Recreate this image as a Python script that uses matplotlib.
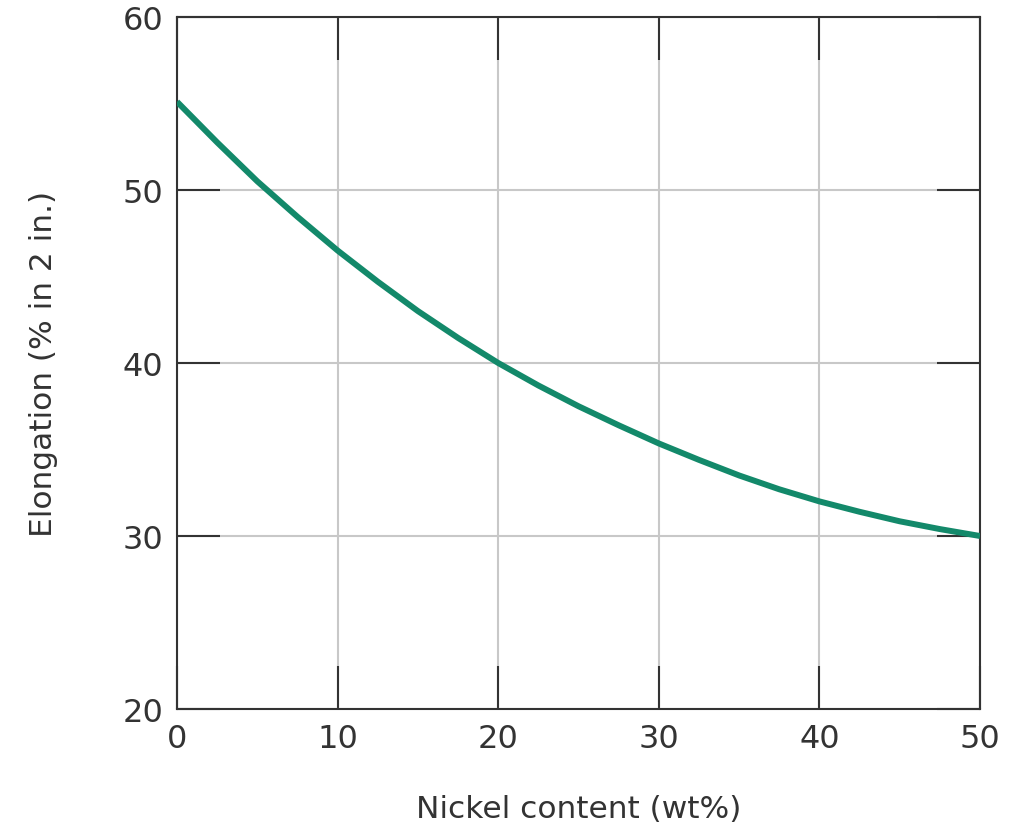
import matplotlib
matplotlib.use("Agg")
import matplotlib.pyplot as plt

nickel = [0, 2.5, 5, 7.5, 10, 12.5, 15, 17.5, 20, 22.5, 25, 27.5, 30,
          32.5, 35, 37.5, 40, 42.5, 45, 47.5, 50]
elongation = [55.1, 52.75, 50.5, 48.45, 46.5, 44.7, 43.0, 41.45, 40.0, 38.7,
              37.5, 36.4, 35.35, 34.4, 33.5, 32.7, 32.0, 31.4, 30.85, 30.4, 30.0]
xticks = [0, 10, 20, 30, 40, 50]
yticks = [20, 30, 40, 50, 60]

plt.rcParams['font.family'] = ['DejaVu Sans']

fig = plt.figure(figsize=(10.28, 8.28), dpi=100)
ax = fig.add_axes([0.1722, 0.1425, 0.9533 - 0.1722, 0.9783 - 0.1425])

ax.plot(nickel, elongation, color='#13896a', lw=4.3, solid_capstyle='butt',
        solid_joinstyle='round', zorder=3)

ax.set_xlim(0, 50)
ax.set_ylim(20, 60)
ax.set_xticks(xticks)
ax.set_yticks(yticks)
ax.grid(True, color='#c8c8c8', lw=1.5, zorder=0)
ax.set_axisbelow(True)

ax.tick_params(direction='in', length=31, width=1.5, color='#333333',
               top=True, right=True, labelsize=23, labelcolor='#333333', pad=10)
for s in ax.spines.values():
    s.set_color('#333333')
    s.set_linewidth(1.5)

ax.set_xlabel('Nickel content (wt%)', fontsize=22.5, color='#333333', labelpad=29)
ax.set_ylabel('Elongation (% in 2 in.)', fontsize=22.5, color='#333333', labelpad=46)

fig.savefig('out.png', dpi=100)
